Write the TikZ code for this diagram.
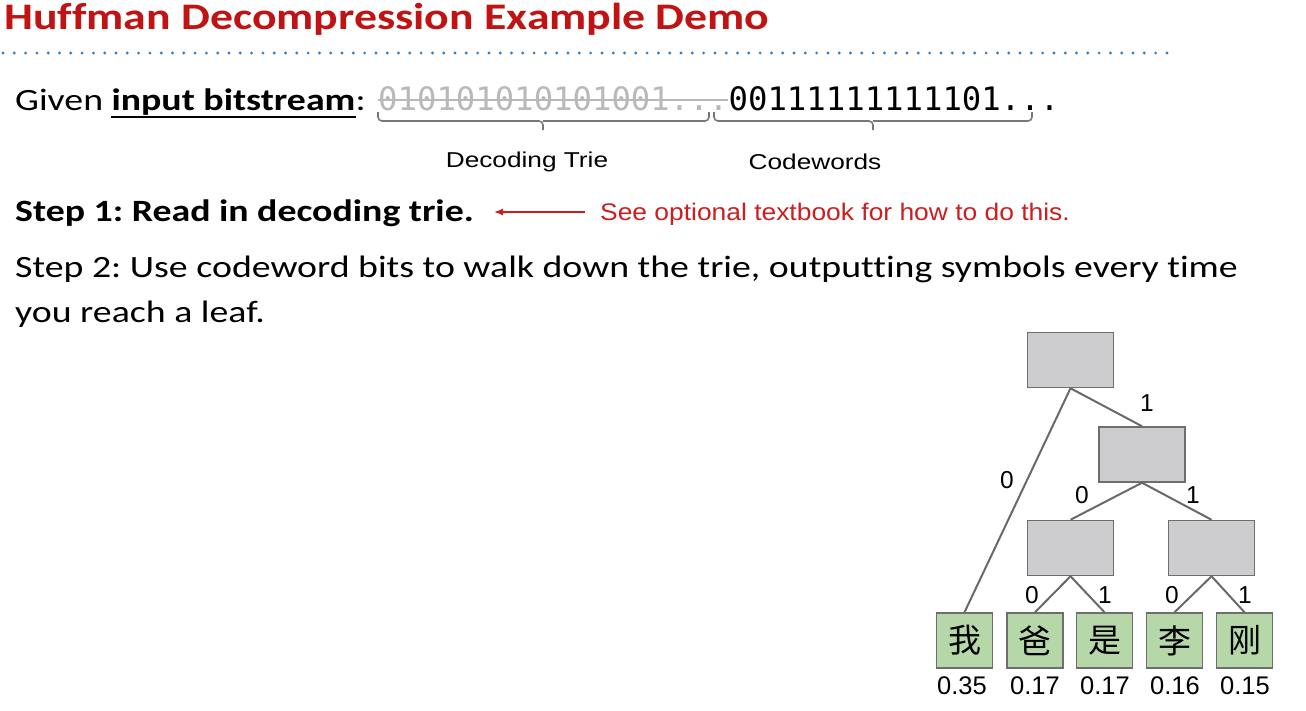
\documentclass[tikz,border=0pt]{standalone}
\usepackage{fontspec}
\setmainfont{Carlito}[FakeStretch=1.22, Ligatures=NoCommon]
\newfontfamily\arial{Liberation Sans}[FakeStretch=1.22]
\newfontfamily\treefont{Liberation Sans}
\newfontfamily\notefont{Liberation Sans}[FakeStretch=1.1]
\newfontfamily\monofont{DejaVu Sans Mono}
\newfontfamily\cjk{Noto Sans CJK SC}
\usetikzlibrary{arrows.meta}
\frenchspacing

\definecolor{titlered}{RGB}{192,20,20}
\definecolor{notered}{RGB}{204,30,30}
\definecolor{dotblue}{RGB}{60,125,185}
\definecolor{innergray}{RGB}{205,205,207}
\definecolor{leafgreen}{RGB}{182,215,168}
\definecolor{boxgray}{RGB}{110,110,110}
\definecolor{edgegray}{RGB}{105,105,105}
\definecolor{bitgray}{RGB}{185,185,185}
\definecolor{bracegray}{RGB}{120,120,120}

\begin{document}
\begin{tikzpicture}[x=1pt,y=-1pt,
  txt/.style={anchor=base west, inner sep=0pt},
  inner/.style={draw=boxgray, fill=innergray, line width=1.5pt,
    minimum width=86pt, minimum height=55pt, inner sep=0pt},
  leaf/.style={draw=boxgray, fill=leafgreen, line width=1.5pt,
    minimum width=56pt, minimum height=55pt, inner sep=0pt,
    font=\cjk\fontsize{33}{33}\selectfont},
  edge/.style={draw=edgegray, line width=2pt},
  bitlbl/.style={inner sep=0pt, font=\treefont\fontsize{24.5}{24.5}\selectfont},
  prob/.style={inner sep=0pt, font=\treefont\fontsize{25.5}{25.5}\selectfont},
  bracket/.style={draw=bracegray, line width=1.6pt, rounded corners=4pt},
  bits/.style={txt, font=\monofont\fontsize{32.3}{32.3}\selectfont},
  body/.style={txt, font=\fontsize{31}{31}\selectfont},
  caption/.style={inner sep=0pt, font=\arial\fontsize{21.5}{21.5}\selectfont}]
\useasboundingbox (0,0) rectangle (1306,710);

% heading and dotted rule
\node[txt, font=\fontsize{37.5}{37.5}\selectfont\bfseries, text=titlered] (title) at (4,29)
  {Huffman Decompression Example Demo};
\draw[dotblue, line width=3.2pt, line cap=round, dash pattern=on 0pt off 11.3pt] (3,53) -- (1175,53);

% input bitstream
\node[body] (given) at (15,110) {Given};
\node[body, font=\fontsize{31}{31}\selectfont\bfseries] (ibs) at ([xshift=8pt]given.base east) {input bitstream};
\node[body] (colon) at (ibs.base east) {:};
\draw[line width=2.2pt] ([yshift=-7pt]ibs.base west) -- ([yshift=-7pt]ibs.base east);
\node[bits, text=bitgray] (triebits) at (378,110) {010101010101001...};
\node[bits, text=black] (codebits) at (triebits.base east) {00111111111101...};
\draw[bitgray, line width=2pt] ([yshift=10pt]triebits.base west) -- ([yshift=10pt]triebits.base east);

% brackets under the two parts
\draw[bracket] (378,112) |- (543,121) -- (543,130);
\draw[bracket] (543,121) -| (709,112);
\draw[bracket] (714,112) |- (873,121) -- (873,130);
\draw[bracket] (873,121) -| (1032,112);
\node[caption] (dtlabel) at (527,162) {Decoding Trie};
\node[caption] (cwlabel) at (815,162) {Codewords};

% steps
\node[body, font=\fontsize{31}{31}\selectfont\bfseries] (step1) at (15,221) {Step 1: Read in decoding trie.};
\node[txt, font=\notefont\fontsize{24}{24}\selectfont, text=notered] (note) at (600,220)
  {See optional textbook for how to do this.};
\draw[notered, line width=1.3pt, -{Latex[length=9pt,width=7pt]}]
  ([xshift=-15pt,yshift=8pt]note.base west) -- ([xshift=20pt,yshift=8pt]note.base west -| step1.base east);
\node[body] (step2a) at (15,277)
  {Step 2: Use codeword bits to walk down the trie, outputting symbols every time};
\node[body] (step2b) at (15,322) {you reach a leaf.};

% decoding trie
\node[inner] (root) at (1070.5,360) {};
\node[inner] (n1)   at (1142,454.5) {};
\node[inner] (n10)  at (1070.5,548) {};
\node[inner] (n11)  at (1211.5,548) {};
\node[leaf] (wo)  at (964.5,640.5) {我};
\node[leaf] (ba)  at (1035,640.5)  {爸};
\node[leaf] (shi) at (1104.5,640.5) {是};
\node[leaf] (li)  at (1174.5,640.5) {李};
\node[leaf] (gang) at (1244.5,640.5) {刚};

\draw[edge] (root.south) -- (wo.north);
\draw[edge] (root.south) -- (n1.north);
\draw[edge] (n1.south) -- (n10.north);
\draw[edge] (n1.south) -- (n11.north);
\draw[edge] (n10.south) -- (ba.north);
\draw[edge] (n10.south) -- (shi.north);
\draw[edge] (n11.south) -- (li.north);
\draw[edge] (n11.south) -- (gang.north);

\node[bitlbl] (b1) at (1147,403) {1};
\node[bitlbl] (b2) at (1007,480) {0};
\node[bitlbl] (b3) at (1082,495) {0};
\node[bitlbl] (b4) at (1193,495) {1};
\node[bitlbl] (b5) at (1032,595) {0};
\node[bitlbl] (b6) at (1105,595) {1};
\node[bitlbl] (b7) at (1172,595) {0};
\node[bitlbl] (b8) at (1245,595) {1};

\node[prob] (p1) at (962,686)  {0.35};
\node[prob] (p2) at (1035,686) {0.17};
\node[prob] (p3) at (1105,686) {0.17};
\node[prob] (p4) at (1175,686) {0.16};
\node[prob] (p5) at (1245,686) {0.15};
\end{tikzpicture}
\end{document}
